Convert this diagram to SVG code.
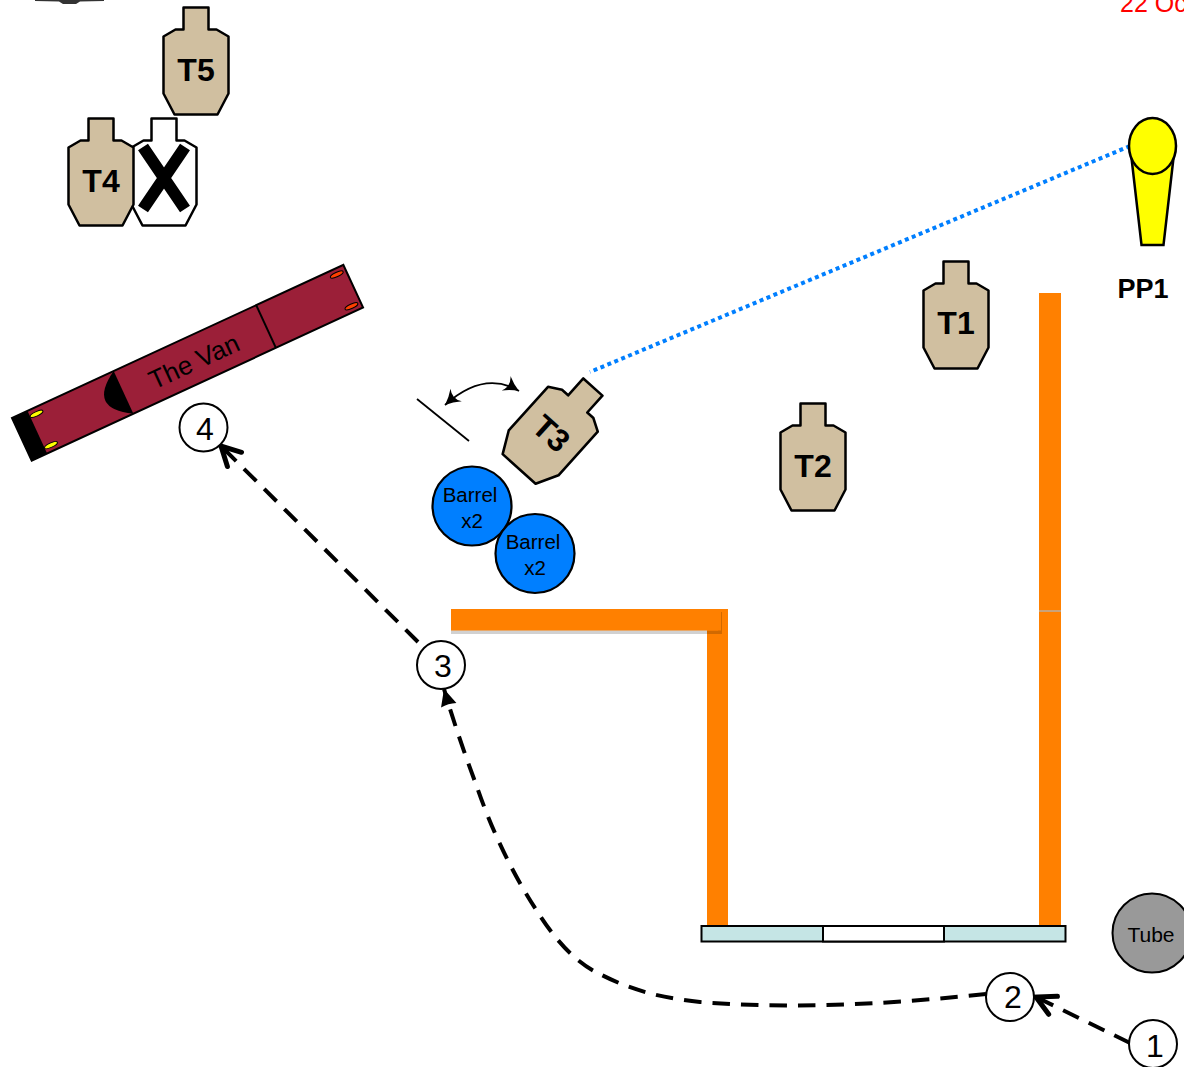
<svg xmlns="http://www.w3.org/2000/svg" xmlns:xlink="http://www.w3.org/1999/xlink" width="1184" height="1067" viewBox="0 0 1184 1067">
<style>
text{font-family:"Liberation Sans",Arial,sans-serif;fill:#000;text-anchor:middle}
.tl{font-size:32px;font-weight:bold}
.tgt{fill:#D0BFA0;stroke:#000;stroke-width:2.5;stroke-linejoin:round}
.wall{fill:#FF8000}
.step{fill:#fff;stroke:#000;stroke-width:2}
.stepT{font-size:32px}
.bar{fill:#007FFF;stroke:#000;stroke-width:2.2}
.barT{font-size:20.5px}
.route{fill:none;stroke:#000;stroke-width:4;stroke-dasharray:17.5 11}
.pp{fill:#FFFF00;stroke:#000;stroke-width:2.5}
</style>
<defs>
<path id="target" d="M20 0H45V22H53L65 29V86L54 107H11L0 86V29L12 22H20Z"/>
<marker id="open" markerUnits="userSpaceOnUse" markerWidth="40" markerHeight="40" refX="30" refY="20" orient="auto" overflow="visible"><path d="M11 10L30 20L11 30" fill="none" stroke="#000" stroke-width="5" stroke-linecap="round" stroke-linejoin="miter"/></marker>
<marker id="tri" markerUnits="userSpaceOnUse" markerWidth="24" markerHeight="24" refX="20" refY="12" orient="auto"><path d="M3 4L20 12L3 20Q5 12 3 4Z" fill="#000"/></marker>
<marker id="sweep" markerUnits="userSpaceOnUse" markerWidth="20" markerHeight="20" refX="16" refY="10" orient="auto-start-reverse"><path d="M1 1.500Q8 7 16 10Q8 13 1 18.500Q7 10 1 1.500Z" fill="#000"/></marker>
</defs>

<g id="top-fragment"><path d="M35 0H104V1L80 1.500L76 4H63L59 1.500L35 1Z" fill="#333"/></g>
<g id="date"><text x="1120" y="12" font-size="25" style="text-anchor:start;fill:#FF0000">22 Oc</text></g>

<g id="walls">
<rect class="wall" x="1039" y="293" width="22" height="633"/>
<rect x="1039" y="610" width="22" height="2" fill="#C9A27A"/>
<rect class="wall" x="707" y="609" width="21" height="317"/>
<rect x="451" y="612" width="271" height="22" fill="#000" opacity=".18"/>
<rect class="wall" x="451" y="609" width="267" height="21.500"/>
<rect class="wall" x="707" y="609" width="14" height="21.500"/>
</g>

<g id="window">
<rect x="701.500" y="926" width="364" height="15.500" fill="#C5E5E5" stroke="#000" stroke-width="2"/>
<rect x="823" y="926" width="121" height="15.500" fill="#fff" stroke="#000" stroke-width="2"/>
</g>

<g id="connectors">
<path class="route" marker-end="url(#open)" d="M1130 1043L1036 997"/>
<path class="route" marker-end="url(#tri)" d="M986 994C900 1003 800 1010 700 1002C650 997 620 985 594 971C570 958 550 932 537 911C510 870 490 825 477 787C465 755 453 720 444 689"/>
<path class="route" marker-end="url(#open)" d="M418 642L221 446"/>
<path d="M1130 146L590 372" fill="none" stroke="#007FFF" stroke-width="4" stroke-dasharray="4 3.500"/>
<path d="M445 405Q484 370 519 391" fill="none" stroke="#000" stroke-width="1.800" marker-start="url(#sweep)" marker-end="url(#sweep)"/>
<path d="M417 399L469 441" stroke="#000" stroke-width="1.800"/>
</g>

<g id="T5"><use xlink:href="#target" href="#target" class="tgt" x="163.500" y="7.500"/><text class="tl" x="196" y="81">T5</text></g>
<g id="no-shoot"><use xlink:href="#target" href="#target" x="131.500" y="118.500" fill="#fff" stroke="#000" stroke-width="2.500" stroke-linejoin="round"/><path d="M143 147L185 209M185 147L143 209" stroke="#000" stroke-width="12" fill="none"/></g>
<g id="T4"><use xlink:href="#target" href="#target" class="tgt" x="68.500" y="118.500"/><text class="tl" x="101" y="192">T4</text></g>
<g id="T1"><use xlink:href="#target" href="#target" class="tgt" x="923.500" y="261.500"/><text class="tl" x="956" y="334">T1</text></g>
<g id="T2"><use xlink:href="#target" href="#target" class="tgt" x="780.500" y="403.500"/><text class="tl" x="813" y="477">T2</text></g>
<g id="T3" transform="translate(556 428) rotate(42)"><use xlink:href="#target" href="#target" class="tgt" transform="scale(1.03)" x="-32.500" y="-53.500"/><text class="tl" x="0.200" y="18.200">T3</text></g>

<g id="van" transform="translate(12 418) rotate(-24.800)">
<rect width="365" height="47" fill="#9B1F38" stroke="#000" stroke-width="2"/>
<rect width="17" height="47" fill="#000"/>
<path d="M112 0Q72 23.500 112 47Z" fill="#000"/>
<path d="M269 0V47" stroke="#000" stroke-width="2"/>
<ellipse cx="24" cy="6.500" rx="7" ry="2.200" fill="#FFFF00" stroke="#000"/>
<ellipse cx="24" cy="41" rx="7" ry="2.200" fill="#FFFF00" stroke="#000"/>
<ellipse cx="355" cy="6" rx="7" ry="2.200" fill="#FF4000" stroke="#000"/>
<ellipse cx="355" cy="41" rx="7" ry="2.200" fill="#FF4000" stroke="#000"/>
<text x="189" y="34" font-size="26">The Van</text>
</g>

<g id="barrel-1"><circle class="bar" cx="472" cy="506" r="39.500"/><text class="barT" x="470" y="502">Barrel</text><text class="barT" x="472" y="528">x2</text></g>
<g id="barrel-2"><circle class="bar" cx="535" cy="553.500" r="39.500"/><text class="barT" x="533" y="549">Barrel</text><text class="barT" x="535" y="575">x2</text></g>

<g id="PP1"><path class="pp" d="M1131.500 158L1141.500 245H1163.500L1173.500 158Z"/><ellipse class="pp" cx="1152.500" cy="146" rx="23.500" ry="28"/><text x="1143" y="298" font-size="27" font-weight="bold">PP1</text></g>

<g id="tube"><circle cx="1152" cy="933" r="39.500" fill="#999" stroke="#000" stroke-width="2"/><text x="1151" y="942" font-size="21">Tube</text></g>

<g id="step-1"><circle class="step" cx="1153" cy="1044" r="24"/><text class="stepT" x="1155" y="1057">1</text></g>
<g id="step-2"><circle class="step" cx="1010" cy="997" r="24"/><text class="stepT" x="1013" y="1008">2</text></g>
<g id="step-3"><circle class="step" cx="441" cy="665" r="24"/><text class="stepT" x="443" y="677">3</text></g>
<g id="step-4"><circle class="step" cx="203.500" cy="427.500" r="24"/><text class="stepT" x="205" y="440">4</text></g>
</svg>
